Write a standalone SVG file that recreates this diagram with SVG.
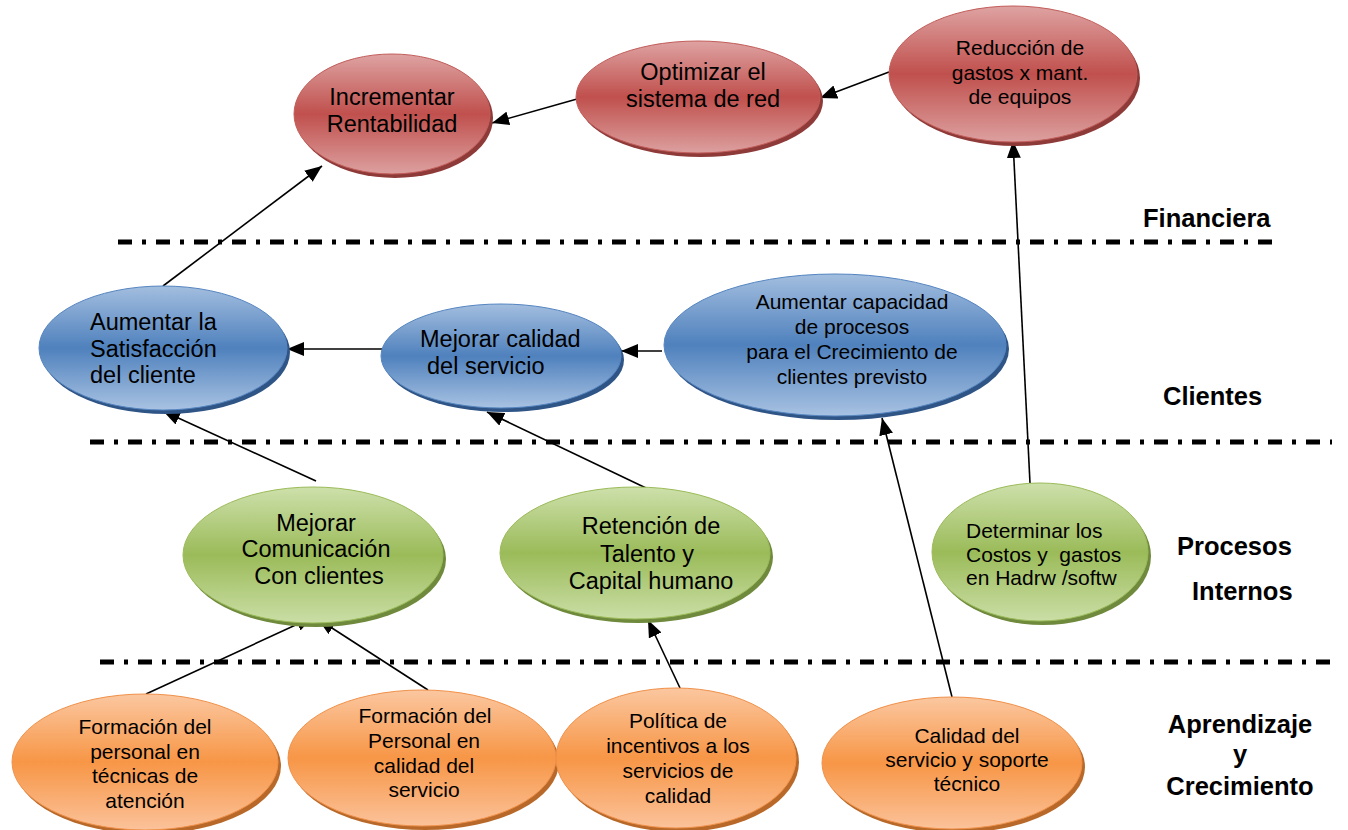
<svg xmlns="http://www.w3.org/2000/svg" width="1348" height="830" viewBox="0 0 1348 830">
  <defs>
    <linearGradient id="gRed" x1="0" y1="0" x2="0" y2="1">
      <stop offset="0" stop-color="#dea3a2"/>
      <stop offset="0.5" stop-color="#c0504d"/>
      <stop offset="1" stop-color="#dca09f"/>
    </linearGradient>
    <linearGradient id="gBlue" x1="0" y1="0" x2="0" y2="1">
      <stop offset="0" stop-color="#a3bedf"/>
      <stop offset="0.5" stop-color="#4f81bd"/>
      <stop offset="1" stop-color="#a8c2e2"/>
    </linearGradient>
    <linearGradient id="gGreen" x1="0" y1="0" x2="0" y2="1">
      <stop offset="0" stop-color="#cde0ab"/>
      <stop offset="0.5" stop-color="#9bbb59"/>
      <stop offset="1" stop-color="#cadea6"/>
    </linearGradient>
    <linearGradient id="gOrange" x1="0" y1="0" x2="0" y2="1">
      <stop offset="0" stop-color="#fbc7a0"/>
      <stop offset="0.5" stop-color="#f79646"/>
      <stop offset="1" stop-color="#fbc29a"/>
    </linearGradient>
    <marker id="arrow" markerUnits="userSpaceOnUse" markerWidth="18" markerHeight="14" refX="17" refY="7" orient="auto">
      <path d="M0,0 L17,7 L0,14 z" fill="#000"/>
    </marker>
  </defs>
  <style>
    .red { fill: url(#gRed); stroke: #c25d5a; stroke-width: 1; }
    .red-sh { fill: #8e3a38; }
    .blue { fill: url(#gBlue); stroke: #5585c0; stroke-width: 1; }
    .blue-sh { fill: #2f5486; }
    .green { fill: url(#gGreen); stroke: #9bbb59; stroke-width: 1; }
    .green-sh { fill: #6f8a3c; }
    .orange { fill: url(#gOrange); stroke: #f0914a; stroke-width: 1; }
    .orange-sh { fill: #b8692a; }
    .big { font-family: "Liberation Sans", Arial, sans-serif; font-size: 23.5px; fill: #000; }
    .small { font-family: "Liberation Sans", Arial, sans-serif; font-size: 21px; fill: #000; }
    .mid { text-anchor: middle; }
    .label { font-family: "Liberation Sans", Arial, sans-serif; font-size: 25.5px; font-weight: bold; fill: #000; }
    .sep { stroke: #000; stroke-width: 5; stroke-dasharray: 14 10 4 10; fill: none; }
    .conn { stroke: #000; stroke-width: 1.6; fill: none; marker-end: url(#arrow); }
  </style>

  <!-- perspective separators -->
  <g id="separators">
    <line class="sep" x1="118" y1="242" x2="1282" y2="242"/>
    <line class="sep" x1="90" y1="442" x2="1332" y2="442"/>
    <line class="sep" x1="100" y1="662" x2="1340" y2="662"/>
  </g>

  <!-- perspective labels -->
  <g id="labels">
    <text class="label" x="1143" y="227">Financiera</text>
    <text class="label" x="1163" y="405">Clientes</text>
    <text class="label" x="1177" y="555">Procesos</text>
    <text class="label" x="1192" y="600">Internos</text>
    <text class="label mid" x="1240" y="733">Aprendizaje</text>
    <text class="label mid" x="1240" y="763">y</text>
    <text class="label mid" x="1240" y="795">Crecimiento</text>
  </g>

  <!-- connectors -->
  <g id="connectors">
    <line class="conn" x1="163" y1="286" x2="322" y2="166"/>
    <line class="conn" x1="577" y1="99" x2="492" y2="123"/>
    <line class="conn" x1="889" y1="72" x2="820" y2="98"/>
    <line class="conn" x1="1030" y1="483" x2="1013" y2="141"/>
    <line class="conn" x1="383" y1="349" x2="287" y2="349"/>
    <line class="conn" x1="662" y1="351" x2="621" y2="351"/>
    <line class="conn" x1="316" y1="481" x2="163" y2="411"/>
    <line class="conn" x1="646" y1="488" x2="487" y2="412"/>
    <line class="conn" x1="952" y1="697" x2="882" y2="418"/>
    <line class="conn" x1="146" y1="694" x2="313" y2="617"/>
    <line class="conn" x1="428" y1="690" x2="318" y2="619"/>
    <line class="conn" x1="680" y1="688" x2="648" y2="620"/>
  </g>

  <!-- financial perspective -->
  <g id="incrementar-rentabilidad">
    <ellipse class="red-sh" cx="395" cy="118" rx="98" ry="60"/>
    <ellipse class="red" cx="392" cy="114" rx="98" ry="60"/>
    <text class="big mid" x="392" y="105">Incrementar</text>
    <text class="big mid" x="392" y="132">Rentabilidad</text>
  </g>
  <g id="optimizar-red">
    <ellipse class="red-sh" cx="701" cy="101" rx="122" ry="56"/>
    <ellipse class="red" cx="698" cy="97" rx="122" ry="56"/>
    <text class="big mid" x="703" y="80">Optimizar el</text>
    <text class="big mid" x="703" y="107">sistema de red</text>
  </g>
  <g id="reduccion-gastos">
    <ellipse class="red-sh" cx="1016" cy="78" rx="124" ry="68"/>
    <ellipse class="red" cx="1013" cy="74" rx="124" ry="68"/>
    <text class="small mid" x="1020" y="55">Reducción de</text>
    <text class="small mid" x="1020" y="80">gastos x mant.</text>
    <text class="small mid" x="1020" y="104">de equipos</text>
  </g>

  <!-- customer perspective -->
  <g id="satisfaccion-cliente">
    <ellipse class="blue-sh" cx="166" cy="352" rx="124" ry="62"/>
    <ellipse class="blue" cx="163" cy="348" rx="124" ry="62"/>
    <text class="big" x="90" y="330">Aumentar la</text>
    <text class="big" x="90" y="357">Satisfacción</text>
    <text class="big" x="90" y="383">del cliente</text>
  </g>
  <g id="calidad-servicio">
    <ellipse class="blue-sh" cx="504" cy="360" rx="120" ry="52"/>
    <ellipse class="blue" cx="501" cy="356" rx="120" ry="52"/>
    <text class="big" x="420" y="347">Mejorar calidad</text>
    <text class="big" x="427" y="374">del servicio</text>
  </g>
  <g id="capacidad-procesos">
    <ellipse class="blue-sh" cx="838" cy="349" rx="171" ry="71"/>
    <ellipse class="blue" cx="835" cy="345" rx="171" ry="71"/>
    <text class="small mid" x="852" y="309">Aumentar capacidad</text>
    <text class="small mid" x="852" y="334">de procesos</text>
    <text class="small mid" x="852" y="359">para el Crecimiento de</text>
    <text class="small mid" x="852" y="384">clientes previsto</text>
  </g>

  <!-- internal process perspective -->
  <g id="comunicacion-clientes">
    <ellipse class="green-sh" cx="316" cy="559" rx="130" ry="68"/>
    <ellipse class="green" cx="313" cy="555" rx="130" ry="68"/>
    <text class="big mid" x="316" y="531">Mejorar</text>
    <text class="big mid" x="316" y="557">Comunicación</text>
    <text class="big mid" x="319" y="584">Con clientes</text>
  </g>
  <g id="retencion-talento">
    <ellipse class="green-sh" cx="638" cy="557" rx="135" ry="66"/>
    <ellipse class="green" cx="635" cy="553" rx="135" ry="66"/>
    <text class="big mid" x="651" y="534">Retención de</text>
    <text class="big mid" x="647" y="562">Talento y</text>
    <text class="big mid" x="651" y="589">Capital humano</text>
  </g>
  <g id="costos-hw-sw">
    <ellipse class="green-sh" cx="1043" cy="556" rx="108" ry="69"/>
    <ellipse class="green" cx="1040" cy="552" rx="108" ry="69"/>
    <text class="small" x="966" y="538">Determinar los</text>
    <text class="small" x="966" y="562" xml:space="preserve">Costos y  gastos</text>
    <text class="small" x="966" y="585">en Hadrw /softw</text>
  </g>

  <!-- learning and growth perspective -->
  <g id="formacion-atencion">
    <ellipse class="orange-sh" cx="148" cy="766" rx="133" ry="68"/>
    <ellipse class="orange" cx="145" cy="762" rx="133" ry="68"/>
    <text class="small mid" x="145" y="734">Formación del</text>
    <text class="small mid" x="145" y="759">personal en</text>
    <text class="small mid" x="145" y="783">técnicas de</text>
    <text class="small mid" x="145" y="808">atención</text>
  </g>
  <g id="formacion-calidad">
    <ellipse class="orange-sh" cx="425" cy="762" rx="134" ry="68"/>
    <ellipse class="orange" cx="422" cy="758" rx="134" ry="68"/>
    <text class="small mid" x="425" y="723">Formación del</text>
    <text class="small mid" x="424" y="748">Personal en</text>
    <text class="small mid" x="424" y="773">calidad del</text>
    <text class="small mid" x="424" y="797">servicio</text>
  </g>
  <g id="politica-incentivos">
    <ellipse class="orange-sh" cx="679" cy="762" rx="120" ry="70"/>
    <ellipse class="orange" cx="676" cy="758" rx="120" ry="70"/>
    <text class="small mid" x="678" y="728">Política de</text>
    <text class="small mid" x="678" y="753">incentivos a los</text>
    <text class="small mid" x="678" y="778">servicios de</text>
    <text class="small mid" x="678" y="803">calidad</text>
  </g>
  <g id="soporte-tecnico">
    <ellipse class="orange-sh" cx="955" cy="767" rx="130" ry="66"/>
    <ellipse class="orange" cx="952" cy="763" rx="130" ry="66"/>
    <text class="small mid" x="967" y="743">Calidad del</text>
    <text class="small mid" x="967" y="767">servicio y soporte</text>
    <text class="small mid" x="967" y="791">técnico</text>
  </g>
</svg>
